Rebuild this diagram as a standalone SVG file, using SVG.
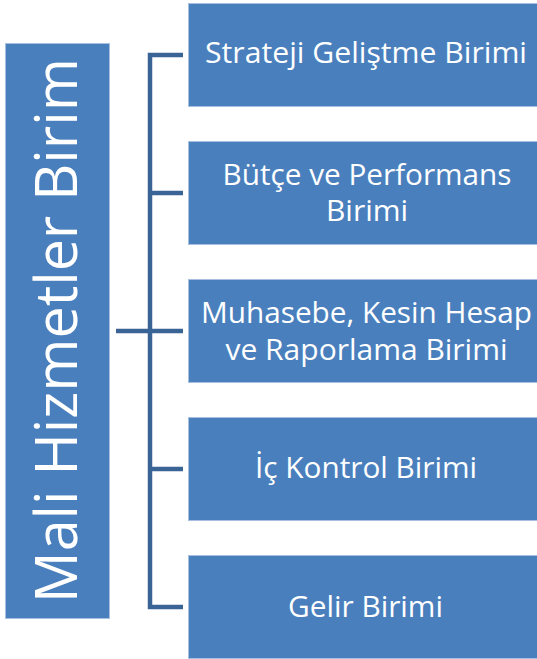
<svg xmlns="http://www.w3.org/2000/svg" width="537" height="659" viewBox="0 0 537 659">
<style>
.box{fill:#4A7FBD;stroke:#A7BFE0;stroke-width:1}
.t{font-family:"Open Sans","Noto Sans","Liberation Sans",sans-serif;fill:#ffffff;font-size:30px;text-anchor:middle}
.big{font-size:58px}
.con{fill:none;stroke:#3A6495;stroke-width:4.5}
</style>
<rect width="537" height="659" fill="#ffffff"/>
<g id="connectors">
<path class="con" d="M183,55 H150 V607 H183"/>
<path class="con" d="M150,193 H183 M150,469 H183 M116,331 H183"/>
</g>
<g id="root">
<rect class="box" x="5.5" y="43.5" width="104" height="575"/>
<text class="t big" transform="translate(77,330.5) rotate(-90)" x="0" y="0" textLength="545" lengthAdjust="spacingAndGlyphs">Mali Hizmetler Birim</text>
</g>
<g id="n1">
<rect class="box" x="188.5" y="3.5" width="360" height="103"/>
<text class="t" x="366" y="63" textLength="322" lengthAdjust="spacingAndGlyphs">Strateji Geliştme Birimi</text>
</g>
<g id="n2">
<rect class="box" x="188.5" y="141.5" width="360" height="103"/>
<text class="t" x="367" y="185" textLength="289" lengthAdjust="spacingAndGlyphs">Bütçe ve Performans</text>
<text class="t" x="367" y="221">Birimi</text>
</g>
<g id="n3">
<rect class="box" x="188.5" y="279.5" width="360" height="103"/>
<text class="t" x="366.5" y="323" textLength="331" lengthAdjust="spacingAndGlyphs">Muhasebe, Kesin Hesap</text>
<text class="t" x="366.5" y="360" textLength="282" lengthAdjust="spacingAndGlyphs">ve Raporlama Birimi</text>
</g>
<g id="n4">
<rect class="box" x="188.5" y="417.5" width="360" height="103"/>
<text class="t" x="366" y="478" textLength="222" lengthAdjust="spacingAndGlyphs">İç Kontrol Birimi</text>
</g>
<g id="n5">
<rect class="box" x="188.5" y="555.5" width="360" height="103"/>
<text class="t" x="365.5" y="617" textLength="155" lengthAdjust="spacingAndGlyphs">Gelir Birimi</text>
</g>
</svg>
